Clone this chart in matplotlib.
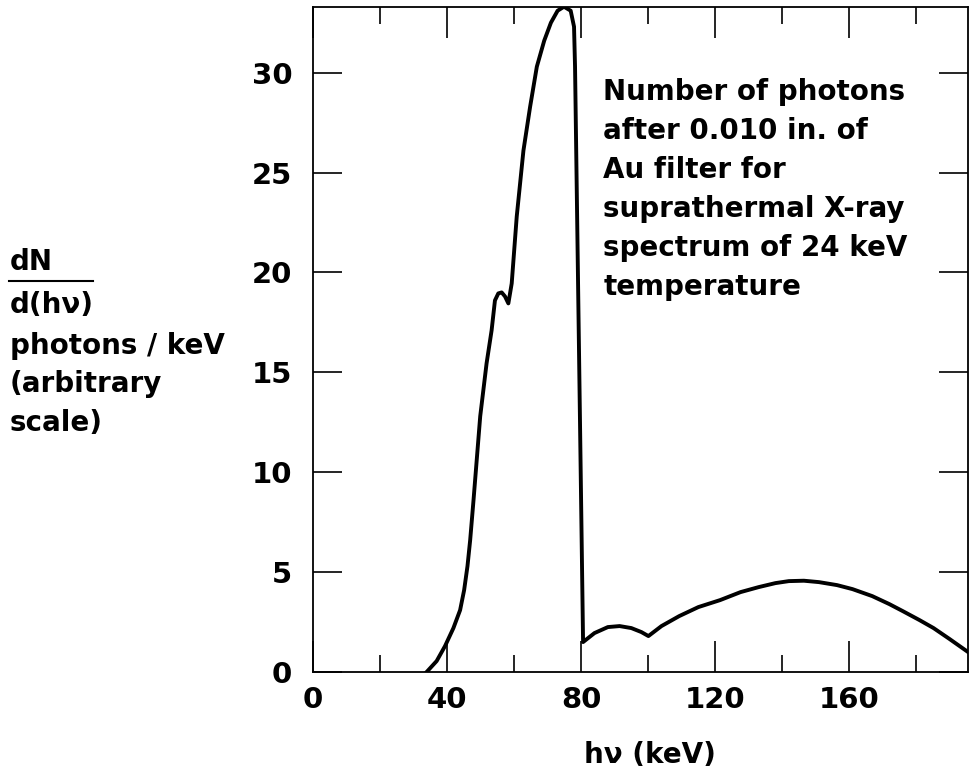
import numpy as np
import matplotlib.pyplot as plt
from matplotlib.ticker import MultipleLocator

plt.rcParams['font.family'] = ['DejaVu Sans']
plt.rcParams['font.weight'] = 'bold'

# spectrum (keV, photons/keV arbitrary)
energy = [33.9, 36.9, 39.4, 41.9, 43.9, 45.1, 46.1, 46.9, 47.9, 49.9, 51.8, 53.3,
          54.3, 55.3, 56.3, 57.3, 58.3, 59.3, 60.8, 62.8, 64.8, 66.8, 69.0, 71.0,
          73.0, 74.9, 76.9, 77.9, 78.2, 80.6, 84.0, 88.0, 91.5, 95.0, 98.0, 100.1,
          104.0, 109.3, 115.0, 121.5, 127.6, 133.0, 138.0, 142.0, 146.5, 151.0,
          156.4, 161.0, 166.9, 172.0, 176.0, 181.0, 185.2, 190.0, 195.5]
counts = [0.0, 0.55, 1.3, 2.2, 3.1, 4.1, 5.3, 6.6, 8.6, 12.8, 15.45, 17.1,
          18.6, 18.95, 19.0, 18.8, 18.45, 19.45, 22.8, 26.1, 28.3, 30.3, 31.6, 32.5,
          33.1, 33.3, 33.1, 32.3, 30.3, 1.5, 1.95, 2.25, 2.3, 2.2, 2.0, 1.8,
          2.3, 2.8, 3.25, 3.6, 4.0, 4.25, 4.45, 4.55, 4.57, 4.5,
          4.35, 4.15, 3.8, 3.4, 3.05, 2.6, 2.2, 1.65, 1.0]

xticks = [0, 40, 80, 120, 160]
yticks = [0, 5, 10, 15, 20, 25, 30]
note = ("Number of photons\nafter 0.010 in. of\nAu filter for\n"
        "suprathermal X-ray\nspectrum of 24 keV\ntemperature")

fig = plt.figure(figsize=(9.7, 7.72), dpi=100)
ax = fig.add_axes([0.3227, 0.1295, 0.6753, 0.8618])
ax.plot(energy, counts, color='black', lw=2.8, solid_joinstyle='round')

ax.set_xlim(0, 195.5)
ax.set_ylim(0, 33.3)
ax.set_xticks(xticks)
ax.xaxis.set_minor_locator(MultipleLocator(20))
ax.set_yticks(yticks)

for s in ax.spines.values():
    s.set_linewidth(1.3)

ax.tick_params(axis='both', which='both', direction='in', top=True, right=True,
               width=1.2, labelsize=21, colors='black')
ax.tick_params(axis='x', which='major', length=22, pad=10)
ax.tick_params(axis='x', which='minor', length=12)
ax.tick_params(axis='y', which='major', length=21, pad=15)

ax.text(0.443, 0.893, note, transform=ax.transAxes, fontsize=20,
        fontweight='bold', va='top', ha='left', linespacing=1.5)

# y label, stacked as in the original
fig.text(0.010, 1 - 262 / 772, "dN", fontsize=20, fontweight='bold',
         va='center', ha='left')
fig.add_artist(plt.Line2D([9 / 970, 93 / 970], [1 - 281 / 772, 1 - 281 / 772],
                          color='black', lw=1.5))
ylab = ["d(hν)", "photons / keV", "(arbitrary", "scale)"]
ylab_y = [305, 346, 384, 423]
for t, yy in zip(ylab, ylab_y):
    fig.text(0.010, 1 - yy / 772, t, fontsize=20, fontweight='bold',
             va='center', ha='left')

fig.text(650 / 970, 1 - 755 / 772, "hν (keV)", fontsize=20, fontweight='bold',
         va='center', ha='center')

fig.savefig('out.png', dpi=100)
